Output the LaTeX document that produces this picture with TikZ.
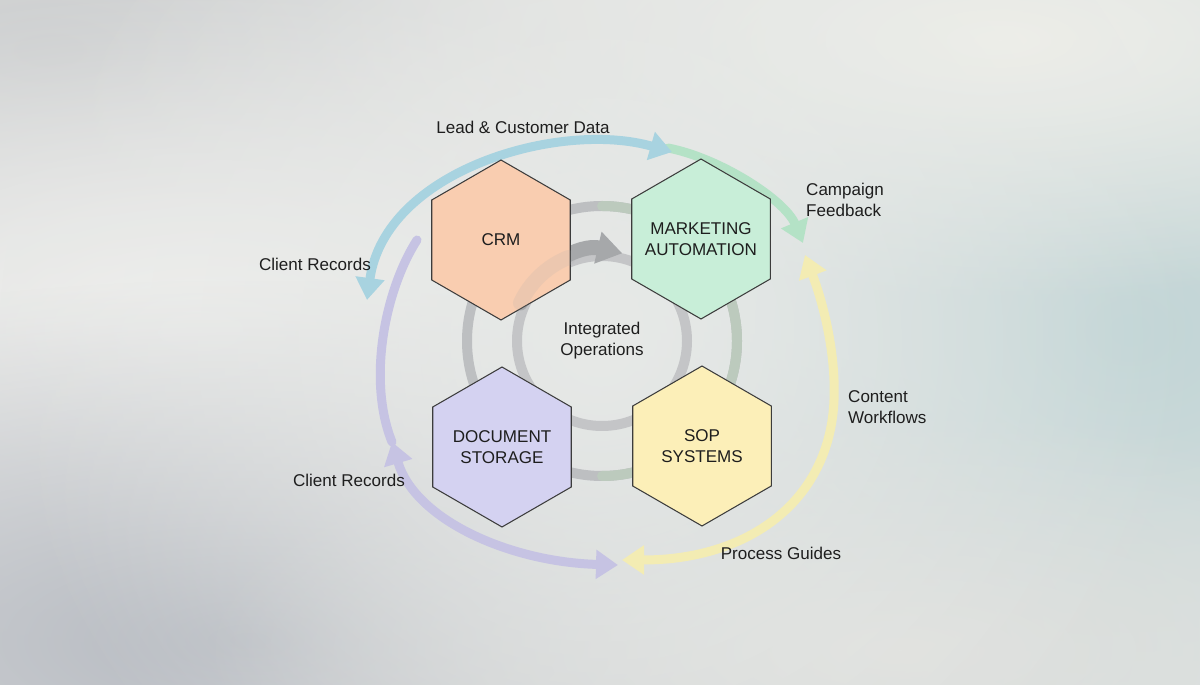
\documentclass[tikz,border=0pt]{standalone}
\usepackage{fontspec}
\setmainfont{Liberation Sans}
\usepackage{tikz}
\usetikzlibrary{arrows.meta,shapes.geometric,fadings}
\usepackage{xcolor}

\definecolor{bgbase}{HTML}{E3E4E3}
\definecolor{bgtopleft}{HTML}{CDCFD0}
\definecolor{bgmidleft}{HTML}{F1F1EF}
\definecolor{bglowleft}{HTML}{B6BAC1}
\definecolor{bgteal}{HTML}{C1D5D6}
\definecolor{bgtopright}{HTML}{EFEFEA}
\definecolor{bglowright}{HTML}{E0E1DE}
\definecolor{bgcentre}{HTML}{E7E9E7}
\definecolor{ink}{HTML}{1E1E1E}
\definecolor{hexline}{HTML}{3C3C3C}
\definecolor{crmfill}{HTML}{F9CDB0}
\definecolor{mktfill}{HTML}{C8EED8}
\definecolor{docfill}{HTML}{D4D2F1}
\definecolor{sopfill}{HTML}{FCEFB8}
\definecolor{flowblue}{HTML}{A8D3E0}
\definecolor{flowgreen}{HTML}{B4E2C6}
\definecolor{flowyellow}{HTML}{F3ECB3}
\definecolor{flowpurple}{HTML}{C6C3E3}
\definecolor{ringgray}{HTML}{BDBFC1}
\definecolor{ringgreen}{HTML}{BCCABD}
\definecolor{arrowgray}{HTML}{A6A8AA}

\tikzfading[name=softblob,inner color=transparent!0,outer color=transparent!100]

\begin{document}
\begin{tikzpicture}[x=0.02cm,y=-0.02cm,>={Triangle[length=0.44cm,width=0.56cm]},
  font=\fontsize{9.7}{12}\selectfont,line cap=round,
  hexa/.style={regular polygon,regular polygon sides=6,shape border rotate=30,
    minimum size=3.2cm,inner sep=0pt,draw=hexline,line width=0.6pt},
  hextext/.style={label={[text=ink,align=center]center:#1}},
  flow/.style={line width=0.18cm},
  ring/.style={line width=0.2cm},
  lbl/.style={text=ink,align=left}]
\useasboundingbox (0,0) rectangle (1200,685);

% background
\begin{scope}
\clip (0,0) rectangle (1200,685);
\fill[bgbase] (0,0) rectangle (1200,685);
\fill[bgtopleft,path fading=softblob] (-700,-300) rectangle (800,400);
\fill[bgmidleft,path fading=softblob] (-500,-10) rectangle (900,670);
\fill[bglowleft,path fading=softblob] (-700,280) rectangle (1200,1000);
\fill[bgteal,path fading=softblob] (420,-220) rectangle (1840,880);
\fill[bgtopright,path fading=softblob] (300,-220) rectangle (1700,300);
\fill[bglowright,path fading=softblob] (200,410) rectangle (1600,890);
\fill[bgcentre,path fading=softblob] (0,-260) rectangle (1200,940);
\end{scope}

\coordinate (O) at (602,341);

% rings
\draw[ring,ringgray] (O) circle[radius=135];
\draw[ring,ringgreen] (O) ++(-90:135) arc[start angle=-90,end angle=90,radius=135];
\draw[ring,ringgray!90] (O) circle[radius=85];
\draw[->,line width=0.3cm,arrowgray,>={Triangle[length=0.5cm,width=0.62cm]}]
  (O) ++(-155:90) arc[start angle=-155,end angle=-77,radius=90];

% flows
\coordinate (b1) at (367,300);
\coordinate (b2) at (672,152);
\coordinate (g1) at (668,148);
\coordinate (g2) at (803,243);
\coordinate (y1) at (805,255);
\coordinate (ym) at (834,400);
\coordinate (y2) at (622,560);
\coordinate (p0) at (417,240);
\coordinate (p1) at (392,442);
\coordinate (p2) at (618,565);

\draw[flow,flowgreen,->] (g1) .. controls (720,158) and (785,200) .. (g2);
\draw[flow,flowblue,<->] (b1) .. controls (385,170) and (560,120) .. (b2);
\draw[flow,flowyellow,<->] (y1) .. controls (822,300) and (836,350) .. (ym)
  .. controls (830,500) and (750,560) .. (y2);
\draw[flow,flowpurple] (p0) .. controls (385,290) and (367,380) .. (p1);
\draw[flow,flowpurple,<->] (p1) .. controls (415,520) and (510,562) .. (p2);

% hexagons
\node[hexa,fill=crmfill,hextext={CRM}] (crm) at (501,240) {};
\node[hexa,fill=mktfill,hextext={MARKETING\\AUTOMATION}] (mkt) at (701,239) {};
\node[hexa,fill=docfill,hextext={DOCUMENT\\STORAGE}] (docs) at (502,447) {};
\node[hexa,fill=sopfill,hextext={SOP\\SYSTEMS}] (sop) at (702,446) {};
\draw[line width=0.3cm,arrowgray,opacity=0.15]
  (O) ++(-155:90) arc[start angle=-155,end angle=-112,radius=90];

\node[text=ink,align=center] (core) at (O) {Integrated\\Operations};

% labels
\node[lbl] (lead) at (523,127) {Lead \& Customer Data};
\node[lbl,anchor=west] (campaign) at (800,200) {Campaign\\Feedback};
\node[lbl] (recA) at (315,264) {Client Records};
\node[lbl] (recB) at (349,480) {Client Records};
\node[lbl,anchor=west] (content) at (842,407) {Content\\Workflows};
\node[lbl] (guides) at (781,553) {Process Guides};
\end{tikzpicture}
\end{document}
